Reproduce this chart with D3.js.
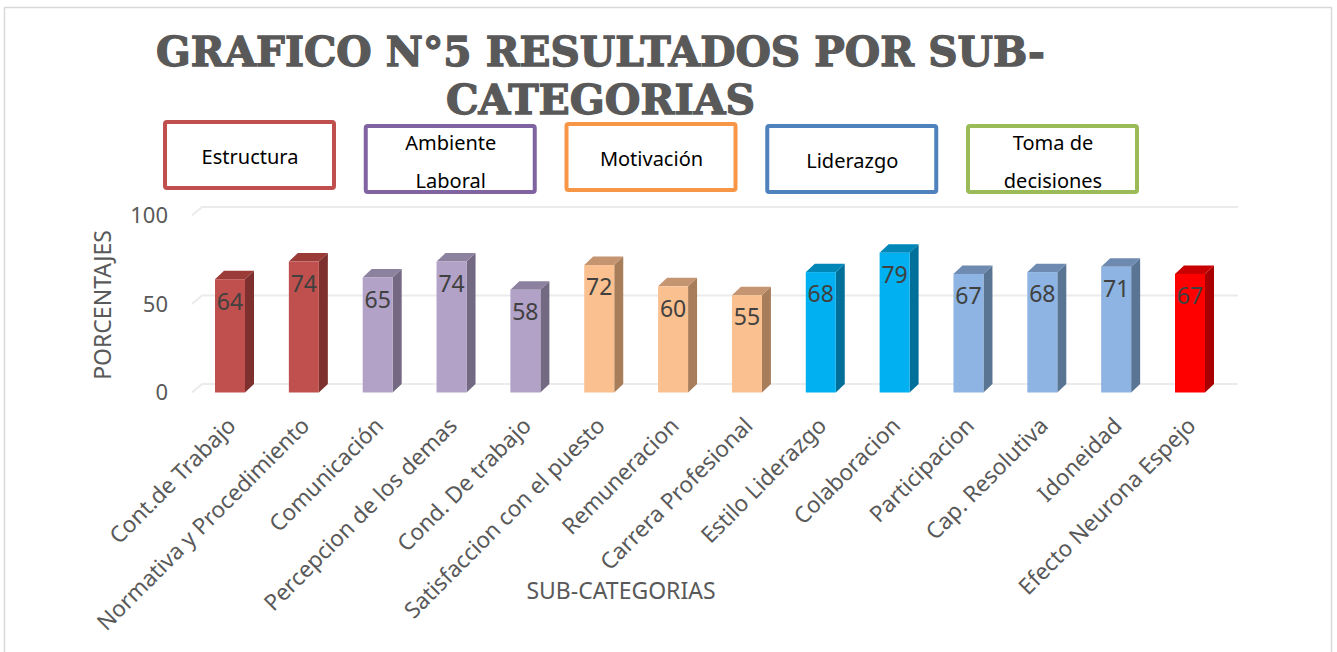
<!DOCTYPE html>
<html>
<head>
<meta charset="utf-8">
<script src="https://cdn.jsdelivr.net/npm/d3@7"></script>
<style>
  body { margin: 0; background: #fff; }
  text { font-family: "Noto Sans", "Open Sans", sans-serif; }
</style>
</head>
<body>
<div id="chart"></div>
<script>
// data
var categories = ["Cont.de Trabajo", "Normativa y Procedimiento", "Comunicación", "Percepcion de los demas",
    "Cond. De trabajo", "Satisfaccion con el puesto", "Remuneracion", "Carrera Profesional",
    "Estilo Liderazgo", "Colaboracion", "Participacion", "Cap. Resolutiva", "Idoneidad", "Efecto Neurona Espejo"];
var values = [64, 74, 65, 74, 58, 72, 60, 55, 68, 79, 67, 68, 71, 67];
var groups = ["estructura", "estructura", "ambiente", "ambiente", "ambiente", "motivacion", "motivacion", "motivacion",
    "liderazgo", "liderazgo", "decisiones", "decisiones", "decisiones", "neurona"];
var legendGroups = ["estructura", "ambiente", "motivacion", "liderazgo", "decisiones"];
var legendLabels = [["Estructura"], ["Ambiente", "Laboral"], ["Motivación"], ["Liderazgo"], ["Toma de", "decisiones"]];
var yTicks = [0, 50, 100];

// colours: front, side, top of the columns and the legend frame
var colors = {
    estructura: { front: "#C0504D", side: "#7E302E", top: "#9A3B38", frame: "#C0504D" },
    ambiente:   { front: "#B3A2C7", side: "#736983", top: "#8D81A0", frame: "#8064A2" },
    motivacion: { front: "#FAC090", side: "#A77D5A", top: "#C59470", frame: "#F79646" },
    liderazgo:  { front: "#00B0F0", side: "#00709A", top: "#0087B8", frame: "#4F81BD" },
    decisiones: { front: "#8DB4E2", side: "#5A7493", top: "#6E8AB0", frame: "#9BBB59" },
    neurona:    { front: "#FF0000", side: "#A80000", top: "#C80000", frame: "#FF0000" }
};

var width = 1337, height = 652;
var depthX = 9, depthY = 8.5, barW = 30;

var svg = d3.select("#chart").append("svg")
    .attr("width", width)
    .attr("height", height);

svg.append("rect")
    .attr("x", 0).attr("y", 0)
    .attr("width", width).attr("height", height)
    .attr("fill", "#fff");

// chart frame
svg.append("rect")
    .attr("x", 4.5).attr("y", 7.5)
    .attr("width", 1327).attr("height", 660)
    .attr("fill", "none")
    .attr("stroke", "#D9D9D9")
    .attr("stroke-width", 1.5);

// scales: back wall for gridlines, front for the faces
var x = d3.scalePoint().domain(categories).range([230, 1190]);
var yBack = d3.scaleLinear().domain([0, 100]).range([384, 207]);
var yFront = function (v) { return yBack(v) + depthY; };

// gridlines (with the short floor stub on the left)
var grid = svg.append("g");
yTicks.forEach(function (t) {
    grid.append("path")
        .attr("d", "M192," + yFront(t) + "L" + (192 + depthX + 1) + "," + yBack(t) + "H1238")
        .attr("fill", "none")
        .attr("stroke", "#EBEBEB")
        .attr("stroke-width", 2);
});

// y tick labels
svg.append("g").selectAll("text")
    .data(yTicks)
    .enter().append("text")
    .attr("x", 168)
    .attr("y", d => yFront(d))
    .attr("dy", "0.36em")
    .attr("text-anchor", "end")
    .attr("font-size", 22)
    .attr("fill", "#595959")
    .text(d => d);

// columns
var bars = svg.append("g").selectAll("g")
    .data(values)
    .enter().append("g");

bars.append("path")   // side
    .attr("d", function (d, i) {
        var x1 = x(categories[i]) + barW / 2, yt = yFront(d), yb = yFront(0);
        return "M" + x1 + "," + yt + "L" + (x1 + depthX) + "," + (yt - depthY) +
            "L" + (x1 + depthX) + "," + (yb - depthY) + "L" + x1 + "," + yb + "Z";
    })
    .attr("fill", (d, i) => colors[groups[i]].side);

bars.append("path")   // top
    .attr("d", function (d, i) {
        var x0 = x(categories[i]) - barW / 2, yt = yFront(d);
        return "M" + x0 + "," + yt + "L" + (x0 + barW) + "," + yt +
            "L" + (x0 + barW + depthX) + "," + (yt - depthY) + "L" + (x0 + depthX) + "," + (yt - depthY) + "Z";
    })
    .attr("fill", (d, i) => colors[groups[i]].top);

bars.append("rect")   // front
    .attr("x", (d, i) => x(categories[i]) - barW / 2)
    .attr("y", d => yFront(d))
    .attr("width", barW)
    .attr("height", d => yFront(0) - yFront(d))
    .attr("fill", (d, i) => colors[groups[i]].front);

bars.append("text")
    .attr("x", (d, i) => x(categories[i]))
    .attr("y", d => yFront(d) + 22)
    .attr("dy", "0.36em")
    .attr("text-anchor", "middle")
    .attr("font-size", 23)
    .attr("fill", "#404040")
    .text(d => d);

// category labels
svg.append("g").selectAll("text")
    .data(categories)
    .enter().append("text")
    .attr("transform", d => "translate(" + (x(d) - 4) + ",416) rotate(-45)")
    .attr("dy", "0.7em")
    .attr("text-anchor", "end")
    .attr("font-size", 22.5)
    .attr("fill", "#595959")
    .text(d => d);

// axis titles
svg.append("text")
    .attr("x", 621).attr("y", 591)
    .attr("dy", "0.36em")
    .attr("text-anchor", "middle")
    .attr("font-size", 23)
    .attr("fill", "#595959")
    .text("SUB-CATEGORIAS");

svg.append("text")
    .attr("transform", "translate(103,305) rotate(-90)")
    .attr("dy", "0.36em")
    .attr("text-anchor", "middle")
    .attr("font-size", 23)
    .attr("fill", "#595959")
    .text("PORCENTAJES");

// title
var title = svg.append("g")
    .attr("font-weight", "bold")
    .attr("fill", "#595959")
    .attr("stroke", "#595959")
    .attr("stroke-width", 1.3);
title.append("text")
    .attr("x", 156).attr("y", 66)
    .attr("font-size", 41)
    .attr("textLength", 889)
    .attr("lengthAdjust", "spacingAndGlyphs")
    .style("font-family", "'DejaVu Serif', serif")
    .text("GRAFICO N°5 RESULTADOS POR SUB-");
title.append("text")
    .attr("x", 446).attr("y", 114)
    .attr("font-size", 41)
    .attr("textLength", 309)
    .attr("lengthAdjust", "spacingAndGlyphs")
    .style("font-family", "'DejaVu Serif', serif")
    .text("CATEGORIAS");

// legend boxes
var boxX = d3.scalePoint().domain(legendGroups).range([163, 966]);
var boxTop = [120, 124, 122, 124, 124];
var legend = svg.append("g").selectAll("g")
    .data(legendGroups)
    .enter().append("g")
    .attr("transform", (d, i) => "translate(" + boxX(d) + "," + boxTop[i] + ")");

legend.append("rect")
    .attr("x", 2).attr("y", 2)
    .attr("width", 169).attr("height", 66)
    .attr("rx", 2)
    .attr("fill", "#fff")
    .attr("stroke", d => colors[d].frame)
    .attr("stroke-width", 4);

legend.each(function (d, i) {
    var lines = legendLabels[i];
    var g = d3.select(this);
    lines.forEach(function (l, j) {
        g.append("text")
            .attr("x", 87)
            .attr("y", lines.length == 1 ? 37 : 19 + j * 38)
            .attr("dy", "0.36em")
            .attr("text-anchor", "middle")
            .attr("font-size", 20)
            .attr("fill", "#000")
            .text(l);
    });
});
</script>
</body>
</html>
